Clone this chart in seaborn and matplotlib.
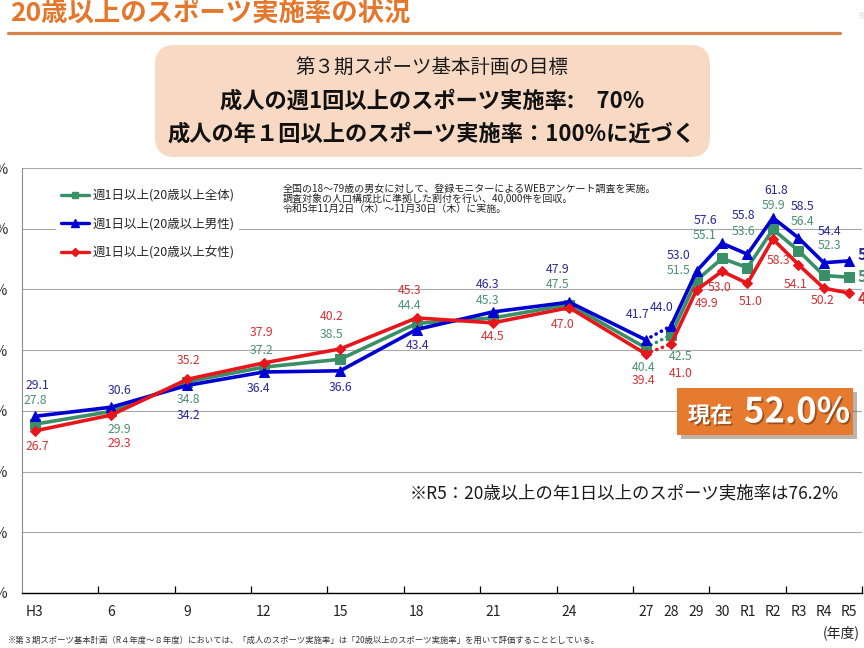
import numpy as np
import pandas as pd
import matplotlib
matplotlib.use('Agg')
import matplotlib.pyplot as plt
import matplotlib.patheffects as pe
from matplotlib.patches import FancyBboxPatch
from matplotlib.lines import Line2D
from matplotlib.ticker import FixedLocator
import seaborn as sns

# fiscal years (H3 .. R5), every 3 years until H27, then yearly
years = [1991, 1994, 1997, 2000, 2003, 2006, 2009, 2012, 2015,
         2016, 2017, 2018, 2019, 2020, 2021, 2022, 2023]
year_labels = ['H3', '6', '9', '12', '15', '18', '21', '24', '27',
               '28', '29', '30', 'R1', 'R2', 'R3', 'R4', 'R5']

rate_all = [27.8, 29.9, 34.8, 37.2, 38.5, 44.4, 45.3, 47.5, 40.4,
            42.5, 51.5, 55.1, 53.6, 59.9, 56.4, 52.3, 52.0]
rate_men = [29.1, 30.6, 34.2, 36.4, 36.6, 43.4, 46.3, 47.9, 41.7,
            44.0, 53.0, 57.6, 55.8, 61.8, 58.5, 54.4, 54.7]
rate_women = [26.7, 29.3, 35.2, 37.9, 40.2, 45.3, 44.5, 47.0, 39.4,
              41.0, 49.9, 53.0, 51.0, 58.3, 54.1, 50.2, 49.4]

series_names = ['週1日以上(20歳以上全体)', '週1日以上(20歳以上男性)', '週1日以上(20歳以上女性)']
last_old_survey = 2015  # H27 -> H28 joined by a dotted line

# value label offsets (px right, px down) as placed on the slide
off_all = [(1, -24), (8, 18), (1, 18), (-2, -17), (-9, -25), (-7, -18), (-5, -17), (-12, -20), (-2, 20),
           (10, 22), (-18, -10), (-17, -23), (-4, -36), (1, -24), (4, -29), (6, -30), (8, 0)]
off_men = [(3, -31), (8, -17), (1, 30), (-5, 17), (0, 17), (1, 16), (-5, -27), (-12, -33), (-8, -25),
           (-9, -18), (-18, -16), (-17, -23), (-4, -39), (3, -27), (4, -31), (6, -31), (8, -6)]
off_women = [(3, 16), (8, 28), (1, -19), (-2, -30), (-8, -32), (-7, -27), (0, 14), (-7, 17), (-2, 27),
             (10, 29), (10, 13), (-2, 16), (3, 18), (6, 21), (-3, 20), (-1, 12), (8, 6)]

line_colors = ['#3a9066', '#0000d2', '#e8161b']
text_colors = ['#4a9270', '#28289a', '#d63032']
markers = ['s', '^', 'D']
marker_sizes = [6.5, 7.5, 5.0]

df = pd.DataFrame({
    'year': years * 3,
    'rate': rate_all + rate_men + rate_women,
    'series': np.repeat(series_names, len(years)),
})

sns.set_theme(style='white')
plt.rcParams['font.family'] = ['Noto Sans CJK JP', 'DejaVu Sans']

W, H = 864, 648
fig = plt.figure(figsize=(W / 100, H / 100), dpi=100)


def px(x, y):
    # slide pixel (top-left origin) -> inches for fig.dpi_scale_trans
    return x / 100, (H - y) / 100


ax = fig.add_axes([22 / W, 1 - 593 / H, 840 / W, 425 / H])

for name, lc, mk, ms in zip(series_names, line_colors, markers, marker_sizes):
    sub = df[df['series'] == name]
    old = sub[sub['year'] <= last_old_survey]
    new = sub[sub['year'] > last_old_survey]
    for part in (old, new):
        sns.lineplot(data=part, x='year', y='rate', ax=ax, color=lc, marker=mk,
                     markersize=ms, markeredgecolor=lc, linewidth=2.6,
                     errorbar=None, legend=False, zorder=3)
    joint = sub[sub['year'].isin([last_old_survey, last_old_survey + 1])]
    ax.plot(joint['year'], joint['rate'], color=lc, linewidth=2.6,
            linestyle=(0, (0.05, 1.6)), dash_capstyle='round', zorder=3)

for vals, offs, tc in zip([rate_all, rate_men, rate_women], [off_all, off_men, off_women], text_colors):
    for i, (yr, v) in enumerate(zip(years, vals)):
        dx, dy = offs[i]
        last = i == len(years) - 1
        ax.annotate(f'{v:.1f}', xy=(yr, v), xytext=(dx, -dy), textcoords='offset pixels',
                    ha='left' if last else 'center', va='center',
                    fontsize=11 if last else 8.8, fontweight='bold' if last else 'normal',
                    color=tc, zorder=4, annotation_clip=False)

ax.set_xlim(1990.5, 2023.5)
ax.set_ylim(0, 70)
ax.set_xticks(years)
ax.set_xticklabels(year_labels)
ax.xaxis.set_minor_locator(FixedLocator(np.arange(1993.5, 2024, 3)))
ax.tick_params(axis='x', which='major', length=0, pad=9, labelsize=10, colors='#222222')
ax.tick_params(axis='x', which='minor', bottom=True, direction='in', length=5, width=0.9, color='black')
ax.set_yticks(range(0, 71, 10))
ax.set_yticklabels([f'{v}%' for v in range(0, 71, 10)])
ax.tick_params(axis='y', length=0, pad=10, labelsize=10, colors='#222222')
ax.set_xlabel('')
ax.set_ylabel('')
ax.yaxis.grid(True, color='#a8a8a8', linewidth=0.8)
ax.set_axisbelow(True)
ax.spines['top'].set_visible(False)
ax.spines['right'].set_visible(False)
ax.spines['left'].set_color('#8c8c8c')
ax.spines['left'].set_linewidth(0.8)
ax.spines['bottom'].set_color('black')
ax.spines['bottom'].set_linewidth(1.0)

handles = [Line2D([], [], color=lc, marker=mk, markersize=ms * 0.75, linewidth=2.4, markeredgecolor=lc)
           for lc, mk, ms in zip(line_colors, markers, marker_sizes)]
leg = ax.legend(handles, series_names, loc='upper left', bbox_to_anchor=px(56, 184),
                bbox_transform=fig.dpi_scale_trans, borderaxespad=0, frameon=True,
                facecolor='white', edgecolor='none', framealpha=1, fancybox=False,
                fontsize=9, handlelength=2.2, handletextpad=0.3, labelspacing=1.25, borderpad=0.4)
leg.set_zorder(5)

ax.text(*px(283, 199), '全国の18～79歳の男女に対して、登録モニターによるWEBアンケート調査を実施。\n'
        '調査対象の人口構成比に準拠した割付を行い、40,000件を回収。\n'
        '令和5年11月2日（木）～11月30日（木）に実施。',
        transform=fig.dpi_scale_trans, fontsize=7.2, va='center', ha='left',
        linespacing=1.0, color='#222222', zorder=6)

# title and underline
fig.text(*px(10, 13), '20歳以上のスポーツ実施率の状況', transform=fig.dpi_scale_trans,
         fontsize=19, fontweight='bold', color='#e5772c', va='center', ha='left')
fig.add_artist(Line2D([8 / 100, 840 / 100], [(H - 33) / 100] * 2, transform=fig.dpi_scale_trans,
                      color='#d9834c', linewidth=2.3))
fig.text(*px(858, 16), '※', transform=fig.dpi_scale_trans, fontsize=6, color='#c8c8c8',
         va='center', ha='left')

# target box
fig.add_artist(FancyBboxPatch(px(155, 157), 555 / 100, 112 / 100,
                              boxstyle='round,pad=0,rounding_size=0.2', transform=fig.dpi_scale_trans,
                              facecolor='#f8d9c4', edgecolor='none'))
fig.text(*px(432, 68), '第３期スポーツ基本計画の目標', transform=fig.dpi_scale_trans,
         fontsize=14, color='#1a1a1a', ha='center', va='center')
fig.text(*px(432, 101), '成人の週1回以上のスポーツ実施率:　70%', transform=fig.dpi_scale_trans,
         fontsize=16, fontweight='bold', color='#111111', ha='center', va='center')
fig.text(*px(432, 134), '成人の年１回以上のスポーツ実施率：100%に近づく', transform=fig.dpi_scale_trans,
         fontsize=16, fontweight='bold', color='#111111', ha='center', va='center')

# current value badge
badge = FancyBboxPatch(px(677, 435), 176 / 100, 47 / 100, boxstyle='square,pad=0',
                       transform=fig.dpi_scale_trans, facecolor='#e67b2f', edgecolor='none',
                       path_effects=[pe.SimplePatchShadow(offset=(3, -3), alpha=0.35), pe.Normal()])
fig.add_artist(badge)
shadow = [pe.SimplePatchShadow(offset=(1.2, -1.2), shadow_rgbFace='#6b3210', alpha=0.6), pe.Normal()]
fig.text(*px(710, 416), '現在', transform=fig.dpi_scale_trans, fontsize=16, fontweight='bold',
         color='white', ha='center', va='center', path_effects=shadow)
fig.text(*px(797, 412), '52.0%', transform=fig.dpi_scale_trans, fontsize=25, fontweight='bold',
         color='white', ha='center', va='center', path_effects=shadow)

fig.text(*px(624, 493), '※R5：20歳以上の年1日以上のスポーツ実施率は76.2%', transform=fig.dpi_scale_trans,
         fontsize=12.5, color='#1a1a1a', ha='center', va='center')

fig.text(*px(841, 633), '(年度)', transform=fig.dpi_scale_trans, fontsize=10,
         color='#222222', ha='center', va='center')
fig.text(*px(8, 640), '※第３期スポーツ基本計画（R４年度～８年度）においては、「成人のスポーツ実施率」は'
         '「20歳以上のスポーツ実施率」を用いて評価することとしている。', transform=fig.dpi_scale_trans,
         fontsize=6, color='#333333', ha='left', va='center')

fig.savefig('out.png', dpi=100)
